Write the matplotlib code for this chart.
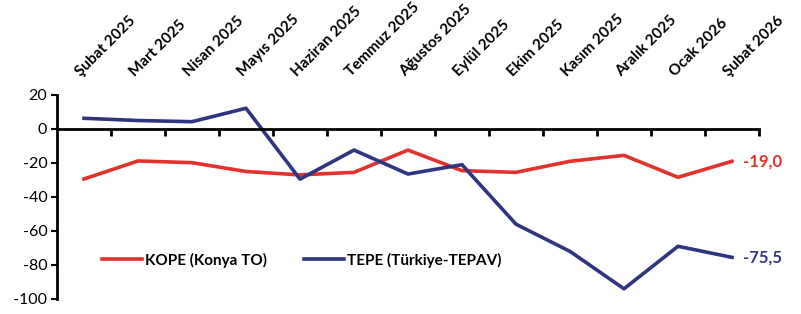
import matplotlib.pyplot as plt
import numpy as np

plt.rcParams['font.family'] = ['Lato', 'DejaVu Sans']
plt.rcParams['axes.unicode_minus'] = False

months = ['Şubat 2025', 'Mart 2025', 'Nisan 2025', 'Mayıs 2025', 'Haziran 2025',
          'Temmuz 2025', 'Ağustos 2025', 'Eylül 2025', 'Ekim 2025', 'Kasım 2025',
          'Aralık 2025', 'Ocak 2026', 'Şubat 2026']
kope = [-29.4, -18.8, -19.8, -25.0, -27.0, -25.5, -12.4, -24.5, -25.5, -19.0, -15.5, -28.4, -19.0]
tepe = [6.3, 5.0, 4.3, 12.2, -29.5, -12.4, -26.5, -21.0, -56.0, -72.0, -94.0, -69.0, -75.5]

red = '#e3312b'
navy = '#2f3580'

fig = plt.figure(figsize=(8.01, 3.14), dpi=100)
ax = fig.add_axes([57 / 801, 15 / 314, 702 / 801, 204 / 314])

x = np.arange(len(months))
ax.plot(x, kope, color=red, lw=2.6, label='KOPE (Konya TO)')
ax.plot(x, tepe, color=navy, lw=2.6, label='TEPE (Türkiye-TEPAV)')

ax.set_xlim(-0.5, len(months) - 0.5)
ax.set_ylim(-100, 20)
ax.set_yticks(range(-100, 21, 20))
ax.tick_params(axis='y', length=4, width=1.5, labelsize=11.5, pad=3)

# x axis drawn at zero, ticks between the categories
ax.spines['bottom'].set_position(('data', 0))
ax.spines['bottom'].set_linewidth(2)
ax.spines['left'].set_linewidth(2)
ax.spines['top'].set_visible(False)
ax.spines['right'].set_visible(False)
ax.set_xticks(x + 0.5)
ax.set_xticklabels([])
ax.tick_params(axis='x', direction='out', length=5, width=2)

# month labels on top, rotated
for i, m in enumerate(months):
    ax.text(i - 0.02, 1.08, m, transform=ax.get_xaxis_transform(), rotation=45,
            rotation_mode='anchor', ha='left', va='bottom', fontsize=11,
            fontweight='bold')

# end values
ax.text(x[-1] + 0.2, kope[-1], '-19,0', color=red, fontsize=12,
        fontweight='bold', va='center', ha='left', clip_on=False)
ax.text(x[-1] + 0.2, tepe[-1], '-75,5', color=navy, fontsize=12,
        fontweight='bold', va='center', ha='left', clip_on=False)

ax.legend(loc='center left', bbox_to_anchor=(0.045, 0.19), ncol=2, frameon=False,
          handlelength=2.6, columnspacing=2.4, handletextpad=0.2,
          prop={'weight': 'bold', 'size': 11})

fig.savefig('out.png', dpi=100)
